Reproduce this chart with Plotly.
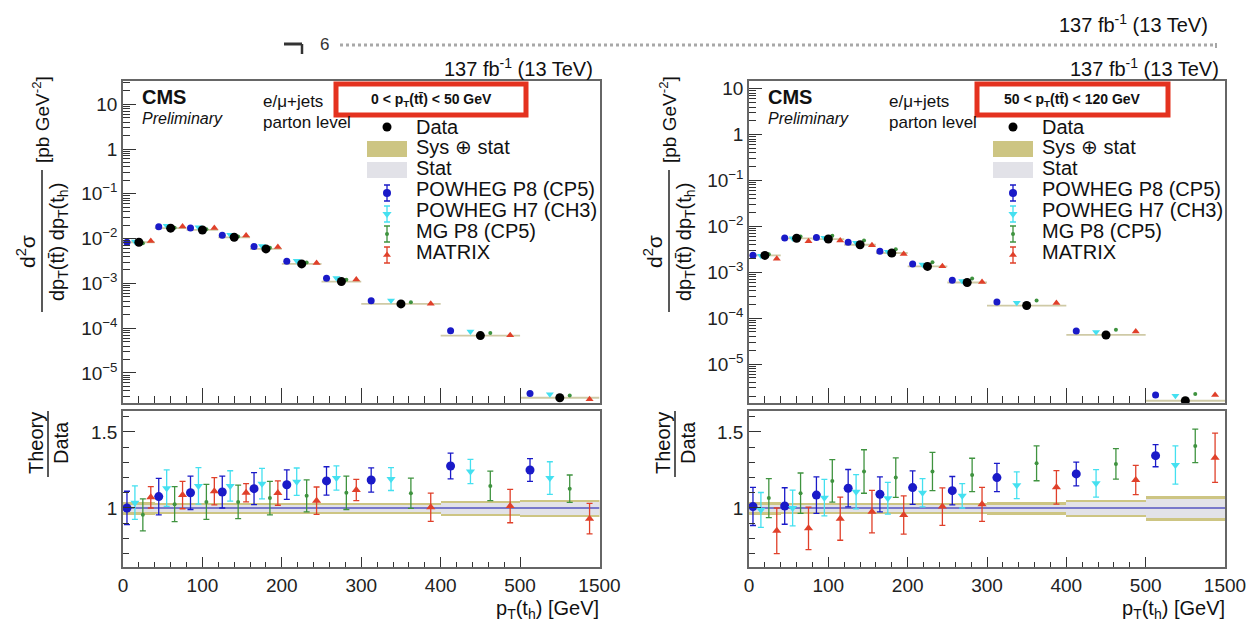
import plotly.graph_objects as go

# ---------------- data ----------------
bin_edges = [0, 40, 80, 120, 160, 200, 250, 300, 400, 500, 1500]
x_tick_vals_gev = [0, 100, 200, 300, 400, 500, 1500]
x_tick_labels = ["0", "100", "200", "300", "400", "500", "1500"]

panel_labels = ["0 < p<sub>T</sub>(tt\u0304) < 50 GeV", "50 < p<sub>T</sub>(tt\u0304) < 120 GeV"]
model_names = ["POWHEG P8 (CP5)", "POWHEG H7 (CH3)", "MG P8 (CP5)", "MATRIX"]

# measured cross sections [pb GeV^-2]
left_data = [8.3e-3, 1.71e-2, 1.56e-2, 1.07e-2, 5.9e-3, 2.72e-3, 1.10e-3, 3.48e-4, 6.84e-5, 2.8e-6]
right_data = [2.33e-3, 5.5e-3, 5.3e-3, 3.98e-3, 2.63e-3, 1.34e-3, 5.98e-4, 1.88e-4, 4.3e-5, 1.58e-6]

# relative uncertainties of data (half widths)
left_tot = [0.040, 0.035, 0.033, 0.033, 0.033, 0.033, 0.035, 0.035, 0.047, 0.055]
left_stat = [0.022, 0.020, 0.020, 0.020, 0.020, 0.020, 0.022, 0.024, 0.035, 0.045]
right_tot = [0.040, 0.035, 0.035, 0.035, 0.035, 0.035, 0.035, 0.040, 0.058, 0.080]
right_stat = [0.025, 0.020, 0.020, 0.020, 0.020, 0.020, 0.022, 0.025, 0.045, 0.060]

# theory / data ratios
left_p8 = [1.00, 1.075, 1.10, 1.105, 1.127, 1.153, 1.178, 1.184, 1.276, 1.25]
left_p8_err = [0.11, 0.12, 0.11, 0.105, 0.105, 0.097, 0.093, 0.08, 0.085, 0.075]
left_h7 = [1.035, 1.13, 1.145, 1.145, 1.16, 1.173, 1.197, 1.19, 1.24, 1.197]
left_h7_err = [0.11, 0.12, 0.12, 0.10, 0.10, 0.09, 0.08, 0.075, 0.08, 0.107]
left_mg = [0.955, 1.025, 1.04, 1.04, 1.065, 1.08, 1.10, 1.097, 1.145, 1.127]
left_mg_err = [0.105, 0.115, 0.115, 0.11, 0.11, 0.105, 0.11, 0.10, 0.097, 0.09]
left_mx = [1.07, 1.085, 1.11, 1.10, 1.098, 1.048, 1.118, 1.005, 1.013, 0.93]
left_mx_err = [0.07, 0.09, 0.09, 0.06, 0.08, 0.09, 0.07, 0.093, 0.11, 0.10]

right_p8 = [1.01, 1.013, 1.085, 1.13, 1.09, 1.134, 1.114, 1.20, 1.224, 1.344]
right_p8_err = [0.125, 0.12, 0.12, 0.123, 0.115, 0.11, 0.093, 0.093, 0.078, 0.073]
right_h7 = [0.987, 1.0, 1.068, 1.107, 1.064, 1.10, 1.08, 1.15, 1.162, 1.283]
right_h7_err = [0.115, 0.117, 0.12, 0.113, 0.104, 0.093, 0.08, 0.088, 0.09, 0.126]
right_mg = [1.065, 1.097, 1.178, 1.24, 1.20, 1.24, 1.217, 1.294, 1.29, 1.408]
right_mg_err = [0.128, 0.133, 0.14, 0.143, 0.13, 0.126, 0.11, 0.115, 0.10, 0.11]
right_mx = [0.85, 0.866, 0.93, 0.976, 0.954, 1.009, 1.024, 1.136, 1.184, 1.33]
right_mx_err = [0.15, 0.14, 0.142, 0.14, 0.126, 0.123, 0.112, 0.11, 0.096, 0.162]

# ---------------- styles ----------------
FONT = "Liberation Sans, Arial, sans-serif"
C_P8 = "#1a1ac8"
C_H7 = "#44e0f0"
C_MG = "#3f933f"
C_MX = "#e0402a"
C_TOT = "#cdc583"
C_STAT = "#e2e2e8"
C_ONE = "#5555c0"
FRAME = "#666666"
model_colors = [C_P8, C_H7, C_MG, C_MX]
model_symbols = ["circle", "triangle-down", "circle", "triangle-up"]
up_sizes = [7, 7, 4, 7]
lo_sizes = [9, 8, 4, 8]

W, H = 1250, 626


def disp(v):
    # display scale: linear up to 500 GeV, last bin 500-1500 compressed
    return v if v <= 500 else 500 + (v - 500) / 10.0


B = [(disp(bin_edges[i]), disp(bin_edges[i + 1])) for i in range(len(bin_edges) - 1)]
centers = [(lo + hi) / 2 for lo, hi in B]
widths = [hi - lo for lo, hi in B]


def model_x(k):
    return [lo + (hi - lo) * (2 * k + 1) / 8.0 for lo, hi in B]


fig = go.Figure()

panels = [
    dict(data=left_data, tot=left_tot, stat=left_stat,
         ratios=[left_p8, left_h7, left_mg, left_mx],
         errs=[left_p8_err, left_h7_err, left_mg_err, left_mx_err],
         xu="x", yu="y", xl="x2", yl="y2", yrange=[-5.67, 1.53]),
    dict(data=right_data, tot=right_tot, stat=right_stat,
         ratios=[right_p8, right_h7, right_mg, right_mx],
         errs=[right_p8_err, right_h7_err, right_mg_err, right_mx_err],
         xu="x3", yu="y3", xl="x4", yl="y4", yrange=[-5.85, 1.18]),
]

for p in panels:
    # ---- ratio panel bands ----
    fig.add_trace(go.Bar(x=centers, width=widths, base=[1 - t for t in p["tot"]],
                         y=[2 * t for t in p["tot"]], marker=dict(color=C_TOT, line_width=0),
                         xaxis=p["xl"], yaxis=p["yl"], showlegend=False, hoverinfo="skip"))
    fig.add_trace(go.Bar(x=centers, width=widths, base=[1 - s for s in p["stat"]],
                         y=[2 * s for s in p["stat"]], marker=dict(color=C_STAT, line_width=0),
                         xaxis=p["xl"], yaxis=p["yl"], showlegend=False, hoverinfo="skip"))
    fig.add_trace(go.Scatter(x=[0, disp(bin_edges[-1])], y=[1, 1], mode="lines",
                             line=dict(color=C_ONE, width=1.5),
                             xaxis=p["xl"], yaxis=p["yl"], showlegend=False, hoverinfo="skip"))
    for k in range(4):
        fig.add_trace(go.Scatter(
            x=model_x(k), y=p["ratios"][k], mode="markers",
            marker=dict(symbol=model_symbols[k], size=lo_sizes[k], color=model_colors[k]),
            error_y=dict(type="data", array=p["errs"][k], color=model_colors[k], thickness=1.3, width=3),
            xaxis=p["xl"], yaxis=p["yl"], showlegend=False))

    # ---- upper panel: band lines (sys + stat) ----
    bx, by = [], []
    for (lo, hi), v in zip(B, p["data"]):
        bx += [lo, hi, None]
        by += [v, v, None]
    fig.add_trace(go.Scatter(x=bx, y=by, mode="lines", line=dict(color="#cfcaa6", width=1.8),
                             xaxis=p["xu"], yaxis=p["yu"], showlegend=False, hoverinfo="skip"))
    for k in range(4):
        fig.add_trace(go.Scatter(
            x=model_x(k), y=[d * r for d, r in zip(p["data"], p["ratios"][k])], mode="markers",
            marker=dict(symbol=model_symbols[k], size=up_sizes[k], color=model_colors[k]),
            xaxis=p["xu"], yaxis=p["yu"], showlegend=False))
    fig.add_trace(go.Scatter(x=centers, y=p["data"], mode="markers",
                             marker=dict(symbol="circle", size=9, color="black"),
                             xaxis=p["xu"], yaxis=p["yu"], showlegend=False))

# ---------------- overlay pixel axis for legend symbols ----------------
for off in [0, 626]:
    mx = 387 + off
    fig.add_trace(go.Scatter(x=[mx], y=[127], mode="markers",
                             marker=dict(size=9, color="black"),
                             xaxis="x5", yaxis="y5", showlegend=False, hoverinfo="skip"))
    for k, yy in enumerate([193, 214, 234, 255]):
        fig.add_trace(go.Scatter(
            x=[mx], y=[yy], mode="markers",
            marker=dict(symbol=model_symbols[k], size=[8, 8, 4, 7][k], color=model_colors[k]),
            error_y=dict(type="data", array=[8], color=model_colors[k], thickness=1.3, width=3),
            xaxis="x5", yaxis="y5", showlegend=False, hoverinfo="skip"))

# ---------------- axes ----------------
minor_x = [v for v in range(20, 501, 20) if v % 100 != 0]
major_x_up = [0, 100, 200, 300, 400, 500]
log_major = [1e-5, 1e-4, 1e-3, 1e-2, 1e-1, 1, 10]
log_text = ["10<sup>\u22125</sup>", "10<sup>\u22124</sup>", "10<sup>\u22123</sup>",
            "10<sup>\u22122</sup>", "10<sup>\u22121</sup>", "1", "10"]
log_minor = [m * 10 ** e for e in range(-7, 2) for m in range(2, 10)]

common_axis = dict(showline=True, mirror=True, linecolor=FRAME, linewidth=1.5,
                   showgrid=False, zeroline=False, ticks="inside", tickcolor="#333",
                   automargin=False,
                   tickfont=dict(family=FONT, size=19, color="#222"), fixedrange=True)

xl_dom = [123 / W, 599.5 / W]
xr_dom = [749 / W, 1225 / W]
yu_dom = [1 - 403 / H, 1 - 80.5 / H]
yl_dom = [1 - 567 / H, 1 - 410.5 / H]

xrng = [0, disp(bin_edges[-1])]
for name, dom, anchor in [("xaxis", xl_dom, "y"), ("xaxis3", xr_dom, "y3")]:
    fig.layout[name] = dict(common_axis, domain=dom, anchor=anchor, range=xrng,
                            tickmode="array", tickvals=major_x_up, showticklabels=False,
                            ticklen=15, tickwidth=1.2,
                            minor=dict(tickmode="array", tickvals=minor_x, ticklen=7,
                                       ticks="inside", tickcolor="#333", tickwidth=1.2))
for name, dom, anchor in [("xaxis2", xl_dom, "y2"), ("xaxis4", xr_dom, "y4")]:
    fig.layout[name] = dict(common_axis, domain=dom, anchor=anchor, range=xrng,
                            tickmode="array", tickvals=[disp(v) for v in x_tick_vals_gev],
                            ticktext=x_tick_labels, ticklen=10, tickwidth=1.2,
                            minor=dict(tickmode="array", tickvals=minor_x, ticklen=5,
                                       ticks="inside", tickcolor="#333", tickwidth=1.2))
for name, anchor, rng in [("yaxis", "x", panels[0]["yrange"]), ("yaxis3", "x3", panels[1]["yrange"])]:
    fig.layout[name] = dict(common_axis, domain=yu_dom, anchor=anchor, type="log", range=rng,
                            tickmode="array", tickvals=log_major, ticktext=log_text,
                            ticklen=13, tickwidth=1.2,
                            minor=dict(tickmode="array", tickvals=log_minor, ticklen=7,
                                       ticks="inside", tickcolor="#333", tickwidth=1))
for name, anchor in [("yaxis2", "x2"), ("yaxis4", "x4")]:
    fig.layout[name] = dict(common_axis, domain=yl_dom, anchor=anchor, range=[0.612, 1.641],
                            tickmode="array", tickvals=[1, 1.5], ticktext=["1", "1.5"],
                            ticklen=12, tickwidth=1.2,
                            minor=dict(tickmode="array",
                                       tickvals=[0.7, 0.8, 0.9, 1.1, 1.2, 1.3, 1.4, 1.6],
                                       ticklen=6, ticks="inside", tickcolor="#333", tickwidth=1))
fig.layout["xaxis5"] = dict(domain=[0, 1], range=[0, W], visible=False, anchor="y5",
                            fixedrange=True, automargin=False)
fig.layout["yaxis5"] = dict(domain=[0, 1], range=[H, 0], visible=False, anchor="x5",
                            fixedrange=True, automargin=False)

# ---------------- annotations & shapes ----------------
ann = []
shapes = []


def txt(x, y, s, size=19, xanchor="left", angle=0, bold=False, italic=False, color="#111"):
    t = s
    if bold:
        t = "<b>" + t + "</b>"
    if italic:
        t = "<i>" + t + "</i>"
    ann.append(dict(x=x, y=y, xref="x5", yref="y5", text=t, showarrow=False,
                    xanchor=xanchor, yanchor="middle", textangle=angle, borderpad=0,
                    font=dict(family=FONT, size=size, color=color)))


legend_y = [127, 147, 168, 189, 210, 231, 252]
legend_txt = ["Data", "Sys \u2295 stat", "Stat"] + model_names

for i, off in enumerate([0, 626]):
    txt(594 + off, 67, "137 fb<sup>-1</sup> (13 TeV)", size=20, xanchor="right")
    txt(141 + off, 97, "CMS", size=20, bold=True)
    txt(141 + off, 118, "Preliminary", size=16, italic=True)
    txt(262 + off, 101, "e/\u03bc+jets", size=17)
    txt(262 + off, 122, "parton level", size=17)
    # red highlight box with pT(tt) range
    bx0, bx1 = (336, 526) if i == 0 else (977, 1168)
    shapes.append(dict(type="rect", xref="x5", yref="y5", x0=bx0, x1=bx1, y0=84, y1=115,
                       line=dict(color="#e4321f", width=5), fillcolor="rgba(0,0,0,0)"))
    txt((bx0 + bx1) / 2, 100, panel_labels[i], size=14, xanchor="center", bold=True)
    # legend
    for ly, lt in zip(legend_y, legend_txt):
        txt(415 + off, ly, lt, size=20)
    shapes.append(dict(type="rect", xref="x5", yref="y5", x0=367 + off, x1=407 + off, y0=141, y1=157,
                       line=dict(width=0), fillcolor=C_TOT))
    shapes.append(dict(type="rect", xref="x5", yref="y5", x0=367 + off, x1=407 + off, y0=162, y1=178,
                       line=dict(width=0), fillcolor=C_STAT))
    # y titles
    o = 627 * i
    txt(26 + o, 252, "d<sup>2</sup>\u03c3", size=21, xanchor="center", angle=-90)
    shapes.append(dict(type="line", xref="x5", yref="y5", x0=42 + o, x1=42 + o, y0=170, y1=312,
                       line=dict(color="#222", width=1.5)))
    txt(58 + o, 242, "dp<sub>T</sub>(tt\u0304) dp<sub>T</sub>(t<sub>h</sub>)", size=20,
        xanchor="center", angle=-90)
    txt(41 + o, 120, "[pb GeV<sup>-2</sup>]", size=19, xanchor="center", angle=-90)
    txt(36 + o, 443, "Theory", size=20, xanchor="center", angle=-90)
    shapes.append(dict(type="line", xref="x5", yref="y5", x0=48 + o, x1=48 + o, y0=411, y1=477,
                       line=dict(color="#222", width=1.5)))
    txt(61 + o, 443, "Data", size=20, xanchor="center", angle=-90)
    # x title
    txt(600 + 626 * i, 609, "p<sub>T</sub>(t<sub>h</sub>) [GeV]", size=20, xanchor="right")

# top remnants of a cropped plot above
txt(1209, 23, "137 fb<sup>-1</sup> (13 TeV)", size=20, xanchor="right")
txt(324, 44, "6", size=17, xanchor="center", color="#333")
shapes.append(dict(type="line", xref="x5", yref="y5", x0=340, x1=1216, y0=45, y1=45,
                   line=dict(color="#a8a8a8", width=3, dash="dot")))
shapes.append(dict(type="line", xref="x5", yref="y5", x0=1216, x1=1216, y0=43, y1=48,
                   line=dict(color="#888", width=1.5)))
shapes.append(dict(type="line", xref="x5", yref="y5", x0=284, x1=302, y0=44, y1=44,
                   line=dict(color="#333", width=3)))
shapes.append(dict(type="line", xref="x5", yref="y5", x0=302, x1=302, y0=44, y1=54,
                   line=dict(color="#333", width=2.5)))

fig.update_layout(width=W, height=H, autosize=False,
                  margin=dict(l=0, r=0, t=0, b=0, pad=0, autoexpand=False),
                  paper_bgcolor="white", plot_bgcolor="rgba(0,0,0,0)",
                  barmode="overlay", bargap=0, annotations=ann, shapes=shapes,
                  showlegend=False, font=dict(family=FONT))

fig.write_html("out.html", config={"responsive": False, "displayModeBar": False})
